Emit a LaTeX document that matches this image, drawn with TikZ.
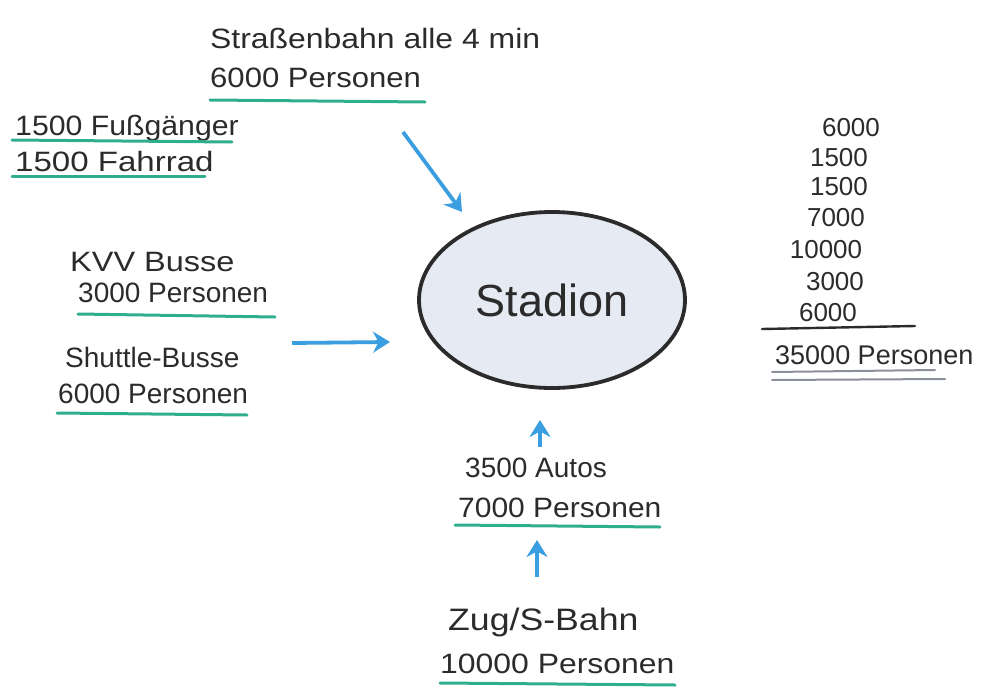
\documentclass[tikz,border=0pt]{standalone}
\usepackage{fontspec}
\setmainfont{Liberation Sans}
\usetikzlibrary{arrows.meta,shapes.geometric}
\definecolor{penblue}{HTML}{3A9EE0}
\definecolor{pengreen}{HTML}{2FAE8F}
\definecolor{inkc}{HTML}{2B2B2B}
\definecolor{stadfill}{HTML}{E6EBF3}
\definecolor{penGrey}{HTML}{8A8F99}
\newcommand{\wx}[2]{\scalebox{#1}[1]{#2}}
\begin{document}
\begin{tikzpicture}[x=1pt,y=-1pt,
  lbl/.style={font=\fontsize{28}{32}\selectfont, text=inkc, inner sep=0pt, anchor=west},
  num/.style={font=\fontsize{26}{30}\selectfont, text=inkc, inner sep=0pt},
  uline/.style={draw=pengreen, line width=3pt, line cap=round},
  gline/.style={draw=penGrey, line width=2pt, line cap=round},
  flow/.style={draw=penblue, line width=3.8pt, -{Stealth[length=17pt,width=21pt]}}]
\useasboundingbox (0,0) rectangle (997,691);

% Stadion
\node[draw=inkc, line width=3.8pt, fill=stadfill, ellipse, minimum width=266, minimum height=176,
      font=\fontsize{45}{50}\selectfont, text=inkc] (stadion) at (552,300) {Stadion};

% Strassenbahn
\node[lbl] (tram) at (210,38) {\wx{1.14}{Straßenbahn alle 4 min}};
\node[lbl] (tramp) at (210,78) {\wx{1.11}{6000 Personen}};
\draw[uline] (210,100) -- (425,102);
\coordinate (tramS) at (403,132);
\coordinate (tramE) at (462,212);
\draw[flow] (tramS) -- (tramE);

% Fussgaenger / Fahrrad
\node[lbl] (fuss) at (15,128) {\wx{1.08}{1500 Fußgänger}};
\draw[uline] (12,140) -- (232,142);
\node[lbl] (rad) at (15,161) {\wx{1.18}{1500 Fahrrad}};
\draw[uline] (12,176) -- (205,176);

% Busse
\node[lbl] (kvv) at (70,262) {\wx{1.16}{KVV Busse}};
\node[lbl] (kvvp) at (78,293) {3000 Personen};
\draw[uline] (78,314) -- (275,317);
\node[lbl] (shut) at (65,357) {Shuttle-Busse};
\node[lbl] (shutp) at (58,394) {6000 Personen};
\draw[uline] (57,413) -- (247,415);
\coordinate (busS) at (292,343);
\coordinate (busE) at (390,342);
\draw[flow] (busS) -- (busE);

% Autos
\node[lbl] (auto) at (465,468) {3500 Autos};
\node[lbl] (autop) at (458,508) {\wx{1.07}{7000 Personen}};
\draw[uline] (455,525) -- (660,527);
\coordinate (autoS) at (540,447);
\coordinate (autoE) at (540,420);
\draw[flow] (autoS) -- (autoE);

% Zug
\node[lbl, font=\fontsize{31}{34}\selectfont] (zug) at (448,622) {\wx{1.15}{Zug/S-Bahn}};
\node[lbl] (zugp) at (440,664) {\wx{1.14}{10000 Personen}};
\draw[uline] (440,683) -- (675,685);
\coordinate (zugS) at (537,577);
\coordinate (zugE) at (537,540);
\draw[flow] (zugS) -- (zugE);

% Summe
\node[num] (n1) at (851,128) {6000};
\node[num] (n2) at (839,158) {1500};
\node[num] (n3) at (839,187) {1500};
\node[num] (n4) at (836,218) {7000};
\node[num] (n5) at (826,250) {10000};
\node[num] (n6) at (835,282) {3000};
\node[num] (n7) at (828,313) {6000};
\draw[draw=inkc, line width=2.4pt, line cap=round] (762,329) -- (915,326);
\node[lbl, font=\fontsize{27}{30}\selectfont] (sum) at (775,355) {35000 Personen};
\draw[gline] (772,372) -- (935,370);
\draw[gline] (772,380) -- (945,379);
\end{tikzpicture}
\end{document}
